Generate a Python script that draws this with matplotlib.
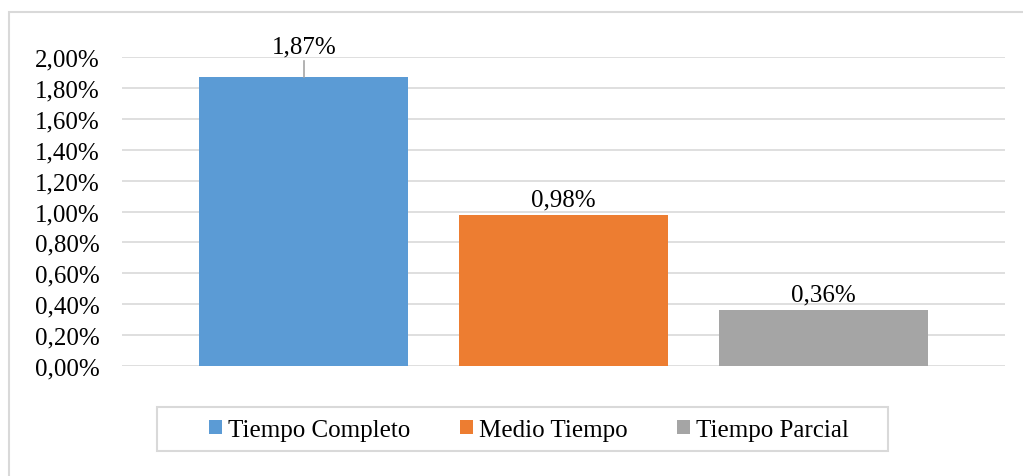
import matplotlib.pyplot as plt
from matplotlib.patches import Rectangle
from matplotlib.ticker import FuncFormatter

series = ['Tiempo Completo', 'Medio Tiempo', 'Tiempo Parcial']
values = [1.87, 0.98, 0.36]
colors = ['#5b9bd5', '#ed7d31', '#a5a5a5']
yticks = [0.0, 0.2, 0.4, 0.6, 0.8, 1.0, 1.2, 1.4, 1.6, 1.8, 2.0]

plt.rcParams['font.family'] = ['Liberation Serif', 'DejaVu Serif']


def pct(v, pos=None):
    return '{:.2f}%'.format(v).replace('.', ',')


fig = plt.figure(figsize=(10.23, 4.77), dpi=100)
W, H = 1023, 477

# outer chart border (only top and left visible)
fig.patches.append(Rectangle((9 / W, -0.1), 1.2, (H - 13) / H + 0.1,
                             transform=fig.transFigure, fill=False,
                             edgecolor='#d9d9d9', linewidth=1.5))

ax = fig.add_axes([122 / W, 1 - 367 / H, (1005 - 122) / W, (367 - 58) / H])

pos = [-1, 0, 1]
bars = ax.bar(pos, values, width=0.805, color=colors, zorder=3)

ax.set_xlim(-1.70, 1.70)
ax.set_ylim(0, 2.0)
ax.set_yticks(yticks)
ax.yaxis.set_major_formatter(FuncFormatter(pct))
ax.set_xticks([])
ax.grid(axis='y', color='#d9d9d9', linewidth=1.2, zorder=0)
for s in ax.spines.values():
    s.set_visible(False)
ax.tick_params(axis='y', length=0, pad=16, labelsize=18, labelcolor='#000000')

# data labels (the first one is lifted with a leader line)
for i, (x, v) in enumerate(zip(pos, values)):
    if i == 0:
        ax.plot([x, x], [v, v + 0.105], color='#a5a5a5', linewidth=1.2, zorder=4)
        ax.text(x, v + 0.125, pct(v), ha='center', va='bottom', fontsize=18)
    else:
        ax.text(x, v + 0.03, pct(v), ha='center', va='bottom', fontsize=18)

# legend box drawn separately so it can be wider than its entries
fig.patches.append(Rectangle((157 / W, 1 - 452 / H), (888 - 157) / W, 44 / H,
                             transform=fig.transFigure, fill=False,
                             edgecolor='#d9d9d9', linewidth=1.5))
leg = fig.legend(bars, series, loc='center', bbox_to_anchor=(529 / W, 1 - 431 / H),
                 ncol=3, fontsize=18, frameon=False,
                 handlelength=0.5, handleheight=0.5, handletextpad=0.25,
                 columnspacing=2.0, borderpad=0.2)

fig.savefig('out.png', dpi=100)
